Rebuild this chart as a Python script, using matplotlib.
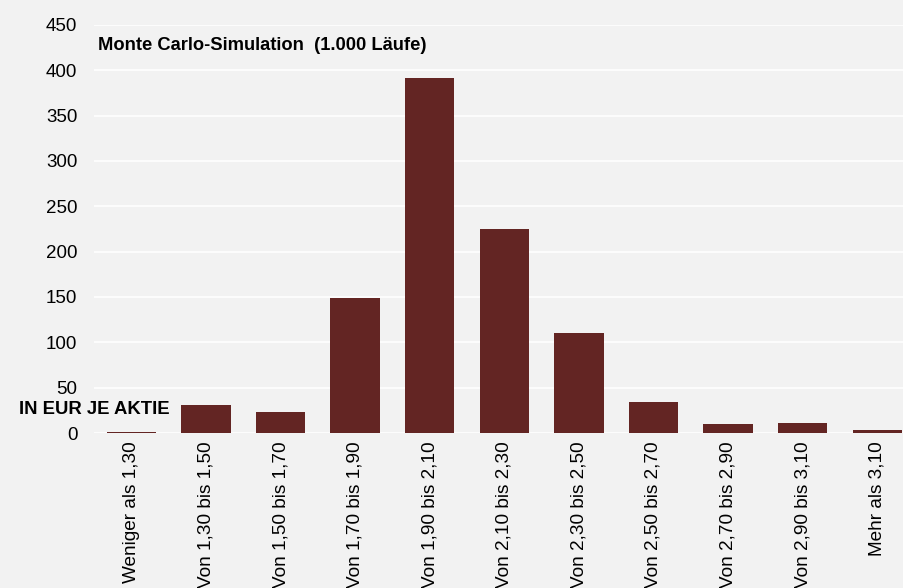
import matplotlib
matplotlib.use("Agg")
import matplotlib.pyplot as plt

# Monte Carlo histogram, earnings per share buckets
categories = [
    "Weniger als 1,30",
    "Von 1,30 bis 1,50",
    "Von 1,50 bis 1,70",
    "Von 1,70 bis 1,90",
    "Von 1,90 bis 2,10",
    "Von 2,10 bis 2,30",
    "Von 2,30 bis 2,50",
    "Von 2,50 bis 2,70",
    "Von 2,70 bis 2,90",
    "Von 2,90 bis 3,10",
    "Mehr als 3,10",
]
counts = [1, 31, 23, 149, 392, 225, 110, 34, 10, 11, 3]
y_ticks = [0, 50, 100, 150, 200, 250, 300, 350, 400, 450]

title = "Monte Carlo-Simulation  (1.000 Läufe)"
unit_label = "IN EUR JE AKTIE"

bg = "#f2f2f2"
bar_color = "#632523"

plt.rcParams["font.family"] = ["Liberation Sans", "DejaVu Sans"]

fig = plt.figure(figsize=(9.04, 5.88), dpi=100, facecolor=bg)
# plot area runs a little past the right edge of the picture
ax = fig.add_axes([0.104, 0.2636, 0.9077, 0.694])
ax.set_facecolor(bg)

x = list(range(len(categories)))
ax.bar(x, counts, width=0.66, color=bar_color, zorder=3)

ax.set_xlim(-0.5, len(categories) - 0.5)
ax.set_ylim(0, 450)
ax.set_yticks(y_ticks)
ax.set_xticks(x)
ax.set_xticklabels(categories, rotation=90, va="top", ha="center", fontsize=13.7)
ax.tick_params(axis="y", labelsize=13.5, length=0, pad=12)
ax.tick_params(axis="x", length=0, pad=6)

ax.grid(axis="y", color="white", linewidth=1.2, zorder=0)
for s in ax.spines.values():
    s.set_visible(False)

fig.text(0.108, 0.923, title, fontsize=13.2, fontweight="bold", va="center", ha="left")
fig.text(0.021, 0.303, unit_label, fontsize=13.3, fontweight="bold", va="center", ha="left")

fig.savefig("out.png", dpi=100, facecolor=bg)
